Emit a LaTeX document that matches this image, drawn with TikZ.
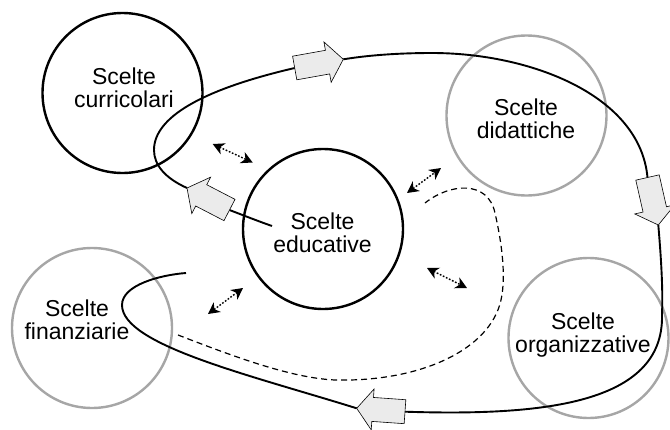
\documentclass[tikz,border=0pt]{standalone}
\usepackage{fontspec}
\setmainfont{Liberation Sans}
\usetikzlibrary{calc,arrows.meta}

\definecolor{ringgray}{RGB}{166,166,166}
\definecolor{arrowfill}{RGB}{235,235,235}

\tikzset{
  mainring/.style={circle, draw=black, line width=2.4pt, minimum size=160pt, inner sep=0pt},
  sidering/.style={circle, draw=ringgray, line width=2.4pt, minimum size=160pt, inner sep=0pt},
  caption/.style={anchor=north, align=center, inner sep=0pt, font=\fontsize{23}{23}\selectfont},
  loopline/.style={line width=1.9pt, draw=black},
  planline/.style={line width=1.2pt, draw=black, dash pattern=on 6pt off 4pt},
  linkline/.style={line width=1.4pt, draw=black, dash pattern=on 1.7pt off 1.7pt,
    {Stealth[length=11.5pt,width=12pt,inset=3.5pt]}-{Stealth[length=11.5pt,width=12pt,inset=3.5pt]}},
  flowarrow/.style={draw=black, fill=arrowfill, line width=0.6pt, line join=miter},
}

% block arrow from tail #1 to tip #2
\newcommand\flowblock[2]{%
  \path[flowarrow]
    ($(#1)!12pt!90:(#2)$) --
    ($(#2)!16pt!(#1)!12pt!90:(#2)$) --
    ($(#2)!16pt!(#1)!20.5pt!90:(#2)$) --
    (#2) --
    ($(#2)!16pt!(#1)!20.5pt!-90:(#2)$) --
    ($(#2)!16pt!(#1)!12pt!-90:(#2)$) --
    ($(#1)!12pt!-90:(#2)$) -- cycle;}

\begin{document}
\begin{tikzpicture}[x=1pt, y=-1pt]
  \useasboundingbox (0,0) rectangle (670,429);

  % rings
  \node[mainring] (curr) at (122.5,93) {};
  \node[mainring] (educ) at (323,229) {};
  \node[sidering] (dida) at (526.5,115.5) {};
  \node[sidering] (fina) at (92,328) {};
  \node[sidering] (orga) at (588.5,338) {};

  % captions
  \node[caption] (tcurr) at (124,68) {Scelte\\curricolari};
  \node[caption] (tdida) at (526,99) {Scelte\\didattiche};
  \node[caption] (teduc) at (322.5,213) {Scelte\\educative};
  \node[caption] (tfina) at (77,300) {Scelte\\finanziarie};
  \node[caption] (torga) at (583,313) {Scelte\\organizzative};

  % points along the main loop
  \coordinate (start) at (272,226);
  \coordinate (a4t) at (229.5,210);
  \coordinate (a4p) at (187,188);
  \coordinate (lp1) at (154,150);
  \coordinate (a1t) at (294.7,68);
  \coordinate (a1p) at (343.3,59.3);
  \coordinate (top) at (432,53);
  \coordinate (a2t) at (647.5,177.5);
  \coordinate (a2p) at (658.3,225);
  \coordinate (rt) at (662,315);
  \coordinate (a3t) at (405,411.7);
  \coordinate (a3p) at (356.7,408.3);
  \coordinate (lp2) at (122,305);
  \coordinate (fin) at (186,273);

  % main loop
  \path[loopline] (start) .. controls +(-17,-6) and +(10.5,4) .. (a4t);
  \path[loopline] (a4p) .. controls +(-22,-10) and +(0,15) .. (lp1)
                        .. controls +(0,-32) and +(-94.7,22) .. (a1t);
  \path[loopline] (a1p) .. controls +(26.7,-4.3) and +(-32,0) .. (top)
                        .. controls +(98,0) and +(-7.5,-82.5) .. (a2t);
  \path[loopline] (a2p) .. controls +(3,35) and +(1,-25) .. (rt)
                        .. controls +(2,90) and +(135,4.3) .. (a3t);
  \path[loopline] (a3p) .. controls +(-106.7,-33.3) and +(0,40) .. (lp2)
                        .. controls +(0,-20) and +(-26,2) .. (fin);

  % dashed path
  \coordinate (d0) at (178,335);
  \coordinate (d1) at (335,380);
  \coordinate (d2) at (501,300);
  \coordinate (d3) at (495,213);
  \coordinate (d4) at (425,203);
  \path[planline] (d0) .. controls +(52,20) and +(-45,-2) .. (d1)
                       .. controls +(85,2) and +(-11,50) .. (d2)
                       .. controls +(6,-27) and +(5,22) .. (d3)
                       .. controls +(-7,-33) and +(25,-20) .. (d4);

  % dotted two-way links
  \coordinate (e1a) at (212.7,144); \coordinate (e1b) at (252.7,162.5);
  \coordinate (e2a) at (407,193); \coordinate (e2b) at (441,168);
  \coordinate (e3a) at (427,268); \coordinate (e3b) at (467,288);
  \coordinate (e4a) at (208,314); \coordinate (e4b) at (243,288);
  \path[linkline] (e1a) -- (e1b);
  \path[linkline] (e2a) -- (e2b);
  \path[linkline] (e3a) -- (e3b);
  \path[linkline] (e4a) -- (e4b);

  % block arrows on the loop
  \flowblock{a4t}{a4p}
  \flowblock{a1t}{a1p}
  \flowblock{a2t}{a2p}
  \flowblock{a3t}{a3p}
\end{tikzpicture}
\end{document}
